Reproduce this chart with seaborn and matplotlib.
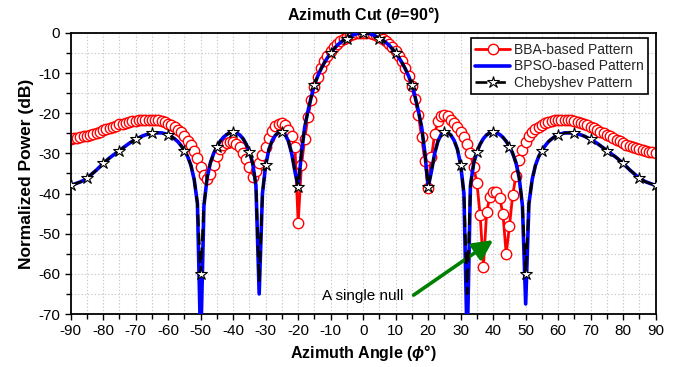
import numpy as np
import pandas as pd
import matplotlib
matplotlib.use("Agg")
import matplotlib.pyplot as plt
from matplotlib import font_manager
from matplotlib.ticker import MultipleLocator
from matplotlib.lines import Line2D
import seaborn as sns

# ---------------- data ----------------
phi = list(range(-90, 91))

bba_db = [
    -26.3, -26.2, -26.1, -26.0, -25.8, -25.6, -25.4, -25.2, -24.9, -24.6,
    -24.3, -24.0, -23.7, -23.4, -23.1, -22.8, -22.6, -22.4, -22.2, -22.0,
    -21.9, -21.8, -21.7, -21.6, -21.6, -21.6, -21.7, -21.8, -22.0, -22.3,
    -22.6, -23.0, -23.5, -24.1, -24.8, -25.7, -26.8, -28.0, -29.5, -31.2,
    -33.5, -35.5, -36.4, -35.2, -32.8, -30.6, -29.0, -28.0, -27.4, -27.1,
    -27.2, -27.7, -28.5, -29.8, -31.5, -33.5, -35.8, -34.5, -32.5, -30.5,
    -28.5, -26.2, -24.4, -23.2, -22.6, -22.5, -22.9, -24.2, -25.8, -28.3,
    -47.4, -33.0, -26.5, -21.0, -16.8, -13.5, -10.9, -8.8, -7.1, -5.7,
    -4.5, -3.5, -2.7, -2.0, -1.4, -1.0, -0.6, -0.3, -0.1, 0.0,
    0.0,
    0.0, -0.1, -0.3, -0.6, -1.0, -1.4, -2.0, -2.7, -3.5, -4.5,
    -5.7, -7.1, -8.8, -10.8, -13.3, -16.5, -20.5, -26.0, -32.0, -38.5,
    -31.0, -25.2, -22.0, -20.8, -20.5, -20.8, -21.6, -22.5, -23.5, -24.6,
    -26.0, -27.6, -30.0, -33.4, -37.4, -45.4, -58.2, -44.5, -40.8, -39.5,
    -39.5, -41.2, -45.0, -55.0, -48.2, -40.4, -35.6, -31.6, -29.1, -27.2,
    -25.8, -24.7, -24.0, -23.4, -22.9, -22.5, -22.2, -22.0, -21.8, -21.7,
    -21.6, -21.6, -21.6, -21.7, -21.9, -22.1, -22.4, -22.7, -23.0, -23.4,
    -23.8, -24.2, -24.6, -25.0, -25.4, -25.8, -26.2, -26.6, -27.0, -27.4,
    -27.8, -28.1, -28.4, -28.7, -29.0, -29.2, -29.4, -29.6, -29.7, -29.8,
]

bpso_db = [
    -38.0, -37.7, -37.4, -37.1, -36.7, -36.2, -35.5, -34.8, -34.1, -33.3,
    -32.5, -31.8, -31.1, -30.5, -29.9, -29.3, -28.7, -28.1, -27.5, -27.0,
    -26.5, -26.1, -25.7, -25.4, -25.2, -25.0, -24.9, -24.9, -24.9, -25.1,
    -25.4, -25.8, -26.4, -27.1, -28.1, -29.3, -30.8, -33.0, -36.5, -42.5,
    -78.0, -43.0, -36.0, -32.3, -30.0, -28.3, -27.0, -26.0, -25.3, -24.9,
    -24.7, -24.9, -25.4, -26.3, -27.7, -29.6, -32.5, -38.0, -65.0, -40.0,
    -32.9, -29.0, -26.8, -25.5, -24.8, -24.7, -25.3, -27.0, -30.0, -34.5,
    -38.4, -30.0, -23.5, -19.5, -16.0, -12.9, -10.8, -9.0, -7.5, -6.2,
    -5.0, -4.0, -3.1, -2.4, -1.8, -1.4, -0.9, -0.5, -0.2, -0.1,
    0.0,
    -0.1, -0.2, -0.5, -0.9, -1.4, -1.8, -2.4, -3.1, -4.0, -5.0,
    -6.2, -7.5, -9.0, -10.8, -12.9, -16.0, -19.5, -23.5, -30.0, -38.4,
    -34.5, -30.0, -27.0, -25.3, -24.7, -24.8, -25.5, -26.8, -29.0, -32.9,
    -40.0, -78.0, -38.0, -32.5, -29.6, -27.7, -26.3, -25.4, -24.9, -24.7,
    -24.9, -25.3, -26.0, -27.0, -28.3, -30.0, -32.3, -36.0, -43.0, -67.5,
    -42.5, -36.5, -33.0, -30.8, -29.3, -28.1, -27.1, -26.4, -25.8, -25.4,
    -25.1, -24.9, -24.9, -24.9, -25.0, -25.2, -25.4, -25.7, -26.1, -26.5,
    -27.0, -27.5, -28.1, -28.7, -29.3, -29.9, -30.5, -31.1, -31.8, -32.5,
    -33.3, -34.1, -34.8, -35.5, -36.2, -36.7, -37.1, -37.4, -37.7, -38.0,
]

cheb_db = [
    -38.0, -37.7, -37.4, -37.1, -36.7, -36.2, -35.5, -34.8, -34.1, -33.3,
    -32.5, -31.8, -31.1, -30.5, -29.9, -29.3, -28.7, -28.1, -27.5, -27.0,
    -26.5, -26.1, -25.7, -25.4, -25.2, -25.0, -24.9, -24.9, -24.9, -25.1,
    -25.4, -25.8, -26.4, -27.1, -28.1, -29.3, -30.8, -33.0, -36.5, -42.5,
    -60.0, -43.0, -36.0, -32.3, -30.0, -28.3, -27.0, -26.0, -25.3, -24.9,
    -24.7, -24.9, -25.4, -26.3, -27.7, -29.6, -32.5, -38.0, -62.0, -40.0,
    -32.9, -29.0, -26.8, -25.5, -24.8, -24.7, -25.3, -27.0, -30.0, -34.5,
    -38.4, -30.0, -23.5, -19.5, -16.0, -12.9, -10.8, -9.0, -7.5, -6.2,
    -5.0, -4.0, -3.1, -2.4, -1.8, -1.4, -0.9, -0.5, -0.2, -0.1,
    0.0,
    -0.1, -0.2, -0.5, -0.9, -1.4, -1.8, -2.4, -3.1, -4.0, -5.0,
    -6.2, -7.5, -9.0, -10.8, -12.9, -16.0, -19.5, -23.5, -30.0, -38.4,
    -34.5, -30.0, -27.0, -25.3, -24.7, -24.8, -25.5, -26.8, -29.0, -32.9,
    -40.0, -65.0, -38.0, -32.5, -29.6, -27.7, -26.3, -25.4, -24.9, -24.7,
    -24.9, -25.3, -26.0, -27.0, -28.3, -30.0, -32.3, -36.0, -43.0, -60.0,
    -42.5, -36.5, -33.0, -30.8, -29.3, -28.1, -27.1, -26.4, -25.8, -25.4,
    -25.1, -24.9, -24.9, -24.9, -25.0, -25.2, -25.4, -25.7, -26.1, -26.5,
    -27.0, -27.5, -28.1, -28.7, -29.3, -29.9, -30.5, -31.1, -31.8, -32.5,
    -33.3, -34.1, -34.8, -35.5, -36.2, -36.7, -37.1, -37.4, -37.7, -38.0,
]

series_labels = ["BBA-based Pattern", "BPSO-based Pattern", "Chebyshev Pattern"]
x_ticks = list(range(-90, 91, 10))
y_ticks = list(range(-70, 1, 10))
title_text = r"Azimuth Cut ($\mathit{\theta}$=$\mathit{90}$°)"
xlabel_text = r"Azimuth Angle ($\mathit{\phi}$°)"
ylabel_text = "Normalized Power (dB)"
annot_text = "A single null"
annot_tip = (40, -51.6)
annot_tail = (15.5, -65.3)
annot_pos = (0.0, -65.4)

# ---------------- style ----------------
sns.set_theme(style="ticks")


def has_font(name):
    try:
        font_manager.findfont(font_manager.FontProperties(family=name),
                              fallback_to_default=False)
        return True
    except Exception:
        return False


narrow = "Liberation Sans Narrow" if has_font("Liberation Sans Narrow") else "Liberation Sans"
plt.rcParams["font.family"] = ["Liberation Sans", "DejaVu Sans"]
plt.rcParams["mathtext.fontset"] = "custom"
plt.rcParams["mathtext.it"] = "Liberation Sans:italic:bold"
plt.rcParams["mathtext.rm"] = "Liberation Sans:bold"
plt.rcParams["mathtext.bf"] = "Liberation Sans:bold"

df_bba = pd.DataFrame({"phi": phi, "db": bba_db})
df_bpso = pd.DataFrame({"phi": phi, "db": bpso_db})
df_cheb = pd.DataFrame({"phi": phi, "db": cheb_db})

fig = plt.figure(figsize=(6.81, 3.67), dpi=100)
ax = fig.add_axes([0.1038, 0.1444, 0.859, 0.766])

# grid
ax.xaxis.set_major_locator(MultipleLocator(10))
ax.xaxis.set_minor_locator(MultipleLocator(5))
ax.yaxis.set_major_locator(MultipleLocator(10))
ax.yaxis.set_minor_locator(MultipleLocator(5))
ax.grid(True, which="both", color="#c8c8c8", linestyle=(0, (1.2, 1.8)), linewidth=0.8)
ax.set_axisbelow(True)

sns.lineplot(data=df_bba, x="phi", y="db", ax=ax, color="#ff0000", linewidth=2.0,
             marker="o", markersize=7.5, markerfacecolor="white",
             markeredgecolor="#ff0000", markeredgewidth=1.0, zorder=2)
sns.lineplot(data=df_bpso, x="phi", y="db", ax=ax, color="#0000ff", linewidth=2.6,
             zorder=3)
sns.lineplot(data=df_cheb, x="phi", y="db", ax=ax, color="black", linewidth=1.9,
             marker="*", markersize=9, markerfacecolor="white",
             markeredgecolor="black", markeredgewidth=0.8, markevery=5, zorder=4)
lines = ax.lines
lines[-1].set_dashes([4.5, 2.5])

ax.set_xlim(-90, 90)
ax.set_ylim(-70, 0)
ax.set_xticks(x_ticks)
ax.set_yticks(y_ticks)
ax.set_xticklabels([str(v) for v in x_ticks])
ax.set_yticklabels([str(v) for v in y_ticks])

for lab in ax.get_xticklabels() + ax.get_yticklabels():
    lab.set_family(narrow)
    lab.set_fontsize(11)
    lab.set_color("black")

ax.tick_params(which="both", direction="out", colors="black", width=1.0,
               top=False, right=False)
ax.tick_params(which="major", length=4.5, pad=3)
ax.tick_params(which="minor", length=3.5)

for sp in ax.spines.values():
    sp.set_visible(True)
    sp.set_color("black")
    sp.set_linewidth(1.3)

ax.set_title(title_text, fontsize=11.5, fontweight="bold", pad=9, color="black")
ax.set_xlabel(xlabel_text, fontsize=11.5, fontweight="bold", labelpad=3, color="black")
ax.set_ylabel(ylabel_text, fontsize=12.5, fontweight="bold", labelpad=3, color="black")

# annotation
ax.annotate("", xy=annot_tip, xytext=annot_tail,
            arrowprops=dict(arrowstyle="-|>,head_length=1.0,head_width=0.5",
                            color="#008000", lw=2.6, shrinkA=0, shrinkB=0))
ax.text(annot_pos[0], annot_pos[1], annot_text, fontsize=11, family=narrow,
        ha="center", va="center", color="black")

# legend
handles = [
    Line2D([], [], color="#ff0000", linewidth=2.0, marker="o", markersize=7.5,
           markerfacecolor="white", markeredgecolor="#ff0000", markeredgewidth=1.0),
    Line2D([], [], color="#0000ff", linewidth=2.6),
    Line2D([], [], color="black", linewidth=1.9, dashes=[4.5, 2.5], marker="*",
           markersize=9, markerfacecolor="white", markeredgecolor="black",
           markeredgewidth=0.8),
]
leg = ax.legend(handles, series_labels, loc="upper right", bbox_to_anchor=(0.992, 0.99),
                frameon=True, fancybox=False, framealpha=1, edgecolor="black",
                prop=dict(family=narrow, size=10), handlelength=2.5,
                handletextpad=0.3, borderpad=0.3, labelspacing=0.2,
                borderaxespad=0.2, numpoints=1)
leg.get_frame().set_linewidth(1.2)

fig.savefig("out.png", dpi=100)
